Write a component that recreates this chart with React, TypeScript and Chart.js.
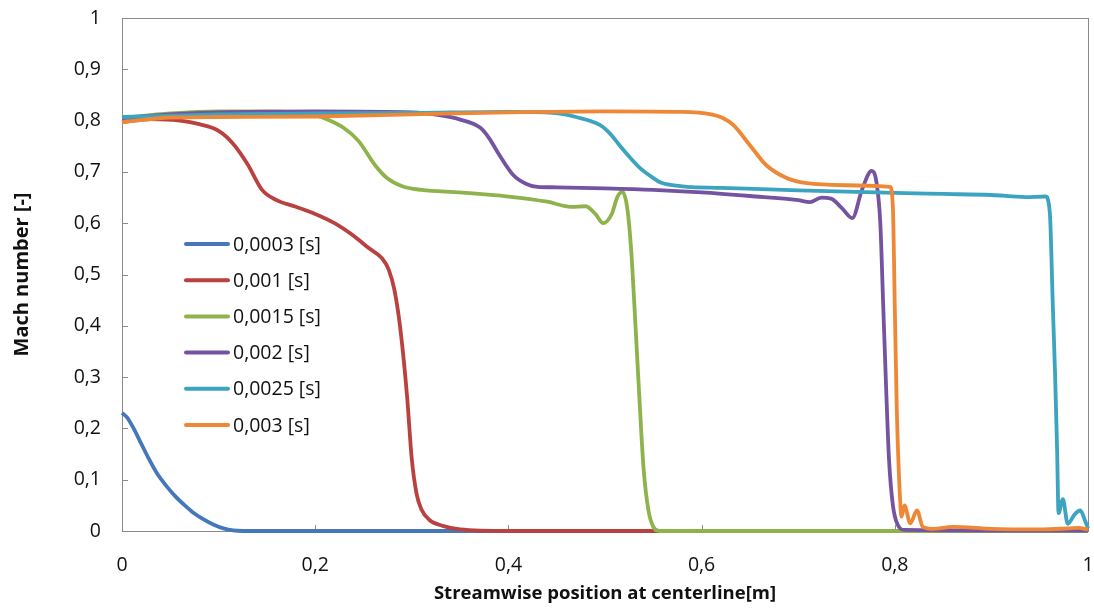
import React, { useEffect, useRef } from "react";
import { Chart, registerables } from "chart.js";

Chart.register(...registerables);

// Time instants (legend labels)
const seriesLabels = ["0,0003 [s]", "0,001 [s]", "0,0015 [s]", "0,002 [s]", "0,0025 [s]", "0,003 [s]"];
const seriesColors = ["#4677B8", "#B9413F", "#8FB34C", "#7454A0", "#3CA4C0", "#EF8836"];

// t = 0.0003 s
const pos0003 = [0, 0.005, 0.012, 0.02, 0.028, 0.036, 0.045, 0.055, 0.065, 0.075, 0.085, 0.095, 0.105, 0.115, 0.125, 0.2, 0.4, 0.6, 0.8, 1];
const mach0003 = [0.23, 0.222, 0.2, 0.17, 0.14, 0.113, 0.09, 0.068, 0.05, 0.034, 0.022, 0.012, 0.005, 0.001, 0, 0, 0, 0, 0, 0];

// t = 0.001 s
const pos001 = [0, 0.03, 0.06, 0.08, 0.1, 0.115, 0.13, 0.145, 0.16, 0.18, 0.2, 0.22, 0.24, 0.255, 0.269, 0.276, 0.282, 0.288, 0.295, 0.3, 0.305, 0.31, 0.318, 0.332, 0.35, 0.4, 0.6, 0.8, 1];
const mach001 = [0.797, 0.803, 0.8, 0.793, 0.78, 0.755, 0.715, 0.665, 0.645, 0.632, 0.618, 0.6, 0.575, 0.552, 0.532, 0.51, 0.47, 0.396, 0.265, 0.14, 0.072, 0.042, 0.022, 0.01, 0.003, 0, 0, 0, 0];

// t = 0.0015 s
const pos0015 = [0, 0.05, 0.1, 0.15, 0.2, 0.215, 0.23, 0.245, 0.262, 0.275, 0.29, 0.31, 0.35, 0.4, 0.44, 0.465, 0.48, 0.49, 0.498, 0.507, 0.513, 0.518, 0.523, 0.527, 0.531, 0.535, 0.54, 0.545, 0.55, 0.556, 0.7, 0.9, 1];
const mach0015 = [0.805, 0.814, 0.818, 0.818, 0.81, 0.8, 0.785, 0.76, 0.713, 0.687, 0.672, 0.665, 0.66, 0.652, 0.642, 0.632, 0.633, 0.618, 0.6, 0.618, 0.652, 0.661, 0.63, 0.55, 0.42, 0.28, 0.12, 0.04, 0.008, 0, 0, 0, 0];

// t = 0.002 s
const pos002 = [0, 0.05, 0.1, 0.2, 0.3, 0.33, 0.35, 0.371, 0.38, 0.39, 0.405, 0.418, 0.43, 0.45, 0.5, 0.55, 0.6, 0.65, 0.7, 0.712, 0.724, 0.734, 0.745, 0.756, 0.766, 0.776, 0.781, 0.785, 0.788, 0.791, 0.794, 0.798, 0.803, 0.81, 0.9, 1];
const mach002 = [0.805, 0.812, 0.816, 0.818, 0.816, 0.81, 0.802, 0.786, 0.766, 0.735, 0.694, 0.677, 0.671, 0.67, 0.668, 0.665, 0.66, 0.653, 0.645, 0.641, 0.65, 0.648, 0.63, 0.61, 0.665, 0.702, 0.68, 0.6, 0.44, 0.28, 0.14, 0.05, 0.012, 0.002, 0.001, 0.001];

// t = 0.0025 s
const pos0025 = [0, 0.1, 0.2, 0.3, 0.4, 0.446, 0.47, 0.495, 0.505, 0.515, 0.525, 0.536, 0.547, 0.557, 0.57, 0.585, 0.62, 0.7, 0.8, 0.85, 0.9, 0.935, 0.956, 0.9605, 0.9635, 0.966, 0.968, 0.9695, 0.974, 0.979, 0.986, 0.992, 0.997, 1];
const mach0025 = [0.807, 0.812, 0.814, 0.815, 0.817, 0.815, 0.807, 0.791, 0.775, 0.752, 0.73, 0.708, 0.692, 0.68, 0.674, 0.671, 0.669, 0.664, 0.659, 0.657, 0.655, 0.651, 0.652, 0.62, 0.444, 0.3, 0.16, 0.035, 0.062, 0.014, 0.032, 0.04, 0.02, 0.005];

// t = 0.003 s
const pos003 = [0, 0.05, 0.1, 0.2, 0.3, 0.4, 0.5, 0.58, 0.61, 0.622, 0.633, 0.65, 0.667, 0.688, 0.702, 0.72, 0.75, 0.795, 0.798, 0.8, 0.802, 0.805, 0.807, 0.81, 0.816, 0.823, 0.829, 0.84, 0.86, 0.9, 0.95, 0.98, 0.99, 1];
const mach003 = [0.797, 0.806, 0.807, 0.808, 0.812, 0.816, 0.818, 0.817, 0.812, 0.805, 0.791, 0.752, 0.713, 0.688, 0.68, 0.676, 0.674, 0.671, 0.632, 0.437, 0.242, 0.08, 0.028, 0.05, 0.015, 0.04, 0.008, 0.004, 0.008, 0.004, 0.003, 0.005, 0.006, 0.003];

const positions = [pos0003, pos001, pos0015, pos002, pos0025, pos003];
const machValues = [mach0003, mach001, mach0015, mach002, mach0025, mach003];

const xTicks = [0, 0.2, 0.4, 0.6, 0.8, 1];
const yTicks = [0, 0.1, 0.2, 0.3, 0.4, 0.5, 0.6, 0.7, 0.8, 0.9, 1];

const FONT = "'Open Sans', sans-serif";
const AXIS_COLOR = "#8a8a8a";
const TEXT_COLOR = "#111111";

const fmt = (v: number) => String(Math.round(v * 10) / 10).replace(".", ",");

// Frame around the plot area with inward tick marks
const framePlugin = {
  id: "frame",
  beforeDatasetsDraw(chart: any) {
    const { ctx, chartArea: a, scales } = chart;
    ctx.save();
    ctx.strokeStyle = AXIS_COLOR;
    ctx.lineWidth = 1;
    ctx.strokeRect(Math.round(a.left) + 0.5, Math.round(a.top) + 0.5, Math.round(a.right - a.left), Math.round(a.bottom - a.top));
    ctx.beginPath();
    for (const t of yTicks) {
      const y = Math.round(scales.y.getPixelForValue(t)) + 0.5;
      ctx.moveTo(a.left, y);
      ctx.lineTo(a.left + 6, y);
    }
    for (const t of xTicks) {
      const x = Math.round(scales.x.getPixelForValue(t)) + 0.5;
      ctx.moveTo(x, a.bottom);
      ctx.lineTo(x, a.bottom - 6);
    }
    ctx.stroke();
    ctx.restore();
  },
};

// Legend drawn inside the plot area
const legendPlugin = {
  id: "innerLegend",
  afterDraw(chart: any) {
    const { ctx } = chart;
    ctx.save();
    ctx.font = `19.5px ${FONT}`;
    ctx.textBaseline = "middle";
    seriesLabels.forEach((label, i) => {
      const y = 244 + i * 36.2;
      ctx.strokeStyle = seriesColors[i];
      ctx.lineWidth = 4;
      ctx.lineCap = "round";
      ctx.beginPath();
      ctx.moveTo(186, y);
      ctx.lineTo(228, y);
      ctx.stroke();
      ctx.fillStyle = TEXT_COLOR;
      ctx.fillText(label, 233, y + 1);
    });
    ctx.restore();
  },
};

export default function App() {
  const canvasRef = useRef<HTMLCanvasElement | null>(null);

  useEffect(() => {
    if (!canvasRef.current) return;
    const datasets = seriesLabels.map((label, i) => ({
      label,
      data: positions[i].map((x, j) => ({ x, y: machValues[i][j] })),
      borderColor: seriesColors[i],
      backgroundColor: seriesColors[i],
      borderWidth: 3.8,
      pointRadius: 0,
      cubicInterpolationMode: "monotone" as const,
      clip: false as const,
      order: seriesLabels.length - i,
    }));

    const chart = new Chart(canvasRef.current, {
      type: "line",
      data: { datasets },
      options: {
        animation: false,
        responsive: true,
        maintainAspectRatio: false,
        layout: { padding: { top: 18, right: 6, left: 0, bottom: 0 } },
        plugins: {
          legend: { display: false },
          tooltip: { enabled: false },
        },
        scales: {
          x: {
            type: "linear",
            min: 0,
            max: 1,
            afterFit: (s: any) => {
              s.height = 77;
              s.paddingLeft = 0;
              s.paddingRight = 0;
            },
            afterBuildTicks: (s: any) => {
              s.ticks = xTicks.map((v) => ({ value: v }));
            },
            grid: { display: false },
            border: { display: false },
            ticks: {
              padding: 15,
              color: TEXT_COLOR,
              font: { family: FONT, size: 19.5 },
              maxRotation: 0,
              callback: (v: any) => fmt(Number(v)),
            },
            title: {
              display: true,
              text: "Streamwise position at centerline[m]",
              color: TEXT_COLOR,
              font: { family: FONT, size: 18.5, weight: "bold" },
              padding: { top: 0, bottom: 3 },
            },
          },
          y: {
            type: "linear",
            min: 0,
            max: 1,
            afterFit: (s: any) => {
              s.width = 122;
              s.paddingTop = 0;
              s.paddingBottom = 0;
            },
            afterBuildTicks: (s: any) => {
              s.ticks = yTicks.map((v) => ({ value: v }));
            },
            grid: { display: false },
            border: { display: false },
            ticks: {
              padding: 13,
              color: TEXT_COLOR,
              font: { family: FONT, size: 19.5 },
              callback: (v: any) => fmt(Number(v)),
            },
            title: {
              display: true,
              text: "Mach number [-]",
              color: TEXT_COLOR,
              font: { family: FONT, size: 20, weight: "bold" },
              padding: { top: 10, bottom: 0 },
            },
          },
        },
      },
      plugins: [framePlugin, legendPlugin],
    });

    return () => chart.destroy();
  }, []);

  return (
    <div style={{ position: "absolute", left: 0, top: 0, width: 1094, height: 608, background: "#fff" }}>
      <canvas ref={canvasRef} />
    </div>
  );
}
